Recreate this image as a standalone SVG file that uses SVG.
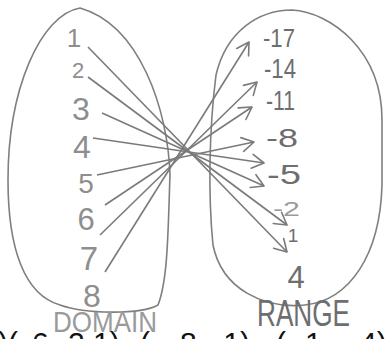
<svg xmlns="http://www.w3.org/2000/svg" width="387" height="339" viewBox="0 0 387 339">
<defs>
<style>
.oval{fill:none;stroke:#7f7f7f;stroke-width:1.6}
.dom{font-family:"Liberation Sans",Arial,sans-serif;fill:#8e8e8e}
.rng{font-family:"Liberation Sans",Arial,sans-serif;fill:#6e6e6e}
.lab{font-family:"Liberation Sans",Arial,sans-serif;fill:#9a9a9a}
.bot{font-family:"Liberation Sans",Arial,sans-serif;fill:#111;font-size:30px}
.arr{fill:none;stroke:#7a7a7a;stroke-width:1.6;marker-end:url(#head)}
</style>
<marker id="head" markerUnits="userSpaceOnUse" markerWidth="16" markerHeight="16" refX="13" refY="7" orient="auto" overflow="visible">
<path d="M1,0 L13,7 L1,14" fill="none" stroke="#7a7a7a" stroke-width="1.6" stroke-linecap="round" stroke-linejoin="round"/>
</marker>
</defs>
<g id="domain">
<path class="oval" d="M80,8 C40,15 8,90 8,180 C8,250 25,295 60,305 C85,314 140,315 158,305 C168,280 168,230 170,175 C168,110 140,25 80,8 Z"/>
<text class="dom" x="74" y="47" font-size="26" text-anchor="middle">1</text>
<text class="dom" x="78" y="78" font-size="22" text-anchor="middle">2</text>
<text class="dom" x="81" y="120" font-size="32" text-anchor="middle">3</text>
<text class="dom" x="82" y="158" font-size="32" text-anchor="middle">4</text>
<text class="dom" x="86" y="193" font-size="28" text-anchor="middle">5</text>
<text class="dom" x="86" y="230" font-size="31" text-anchor="middle">6</text>
<text class="dom" x="89" y="270" font-size="33" text-anchor="middle">7</text>
<text class="dom" x="92" y="307" font-size="32" text-anchor="middle">8</text>
<text class="lab" x="53" y="332" font-size="30" textLength="104" lengthAdjust="spacingAndGlyphs">DOMAIN</text>
</g>
<g id="range">
<path class="oval" d="M292,10 C330,12 382,50 382,120 L382,185 C380,255 350,300 305,305 C265,309 222,290 213,245 C208,195 209,130 216,75 C226,32 258,10 292,10 Z"/>
<text class="rng" x="263" y="47" font-size="26" textLength="32" lengthAdjust="spacingAndGlyphs">-17</text>
<text class="rng" x="264" y="78" font-size="27" textLength="32" lengthAdjust="spacingAndGlyphs">-14</text>
<text class="rng" x="266" y="110" font-size="27" textLength="29" lengthAdjust="spacingAndGlyphs">-11</text>
<text class="rng" x="266" y="147" font-size="26" textLength="32" lengthAdjust="spacingAndGlyphs">-8</text>
<text class="rng" x="267" y="184" font-size="28" textLength="34" lengthAdjust="spacingAndGlyphs">-5</text>
<text class="lab" x="273" y="216" font-size="21" textLength="27" lengthAdjust="spacingAndGlyphs">-2</text>
<text class="rng" x="293" y="242" font-size="19" text-anchor="middle">1</text>
<text class="rng" x="296" y="288" font-size="31" text-anchor="middle">4</text>
<text class="rng" x="257" y="326" font-size="37" textLength="93" lengthAdjust="spacingAndGlyphs">RANGE</text>
</g>
<g id="connectors">
<line class="arr" x1="88" y1="47" x2="287" y2="252"/>
<line class="arr" x1="88" y1="77" x2="287" y2="225"/>
<line class="arr" x1="102" y1="113" x2="264" y2="186"/>
<line class="arr" x1="93" y1="138" x2="264" y2="163"/>
<line class="arr" x1="97" y1="175" x2="254" y2="142"/>
<line class="arr" x1="105" y1="205" x2="252" y2="107"/>
<line class="arr" x1="100" y1="235" x2="257" y2="82"/>
<line class="arr" x1="105" y1="272" x2="249" y2="42"/>
</g>
<text class="bot" y="353"><tspan x="-2">)(</tspan><tspan x="32">6,</tspan><tspan x="68">2,1)</tspan><tspan x="140">(-</tspan><tspan x="180">8, -1)</tspan><tspan x="276">(-</tspan><tspan x="305">1,</tspan><tspan x="350">-4)</tspan></text>
</svg>
